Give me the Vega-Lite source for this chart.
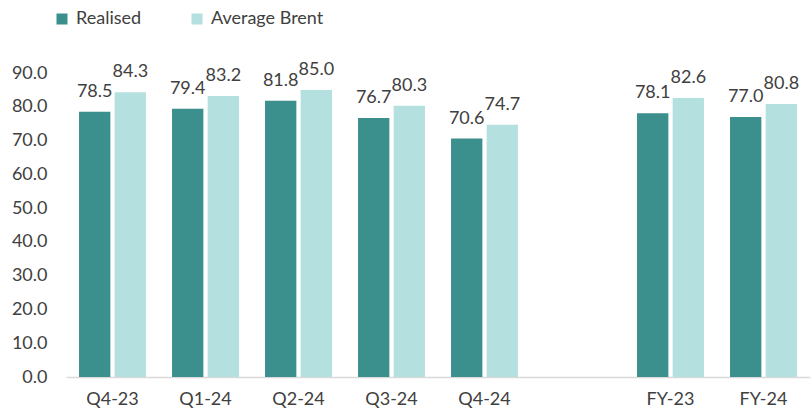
{
  "$schema": "https://vega.github.io/schema/vega-lite/v6.json",
  "width": 744,
  "height": 304,
  "autosize": {"type": "none"},
  "padding": {"left": 66, "top": 73, "right": 2, "bottom": 34},
  "background": "white",
  "config": {
    "view": {"stroke": null},
    "font": "Lato",
    "text": {"font": "Lato"}
  },
  "data": {
    "values": [
      {"period": "Q4-23", "series": "Realised", "value": 78.5},
      {"period": "Q4-23", "series": "Average Brent", "value": 84.3},
      {"period": "Q1-24", "series": "Realised", "value": 79.4},
      {"period": "Q1-24", "series": "Average Brent", "value": 83.2},
      {"period": "Q2-24", "series": "Realised", "value": 81.8},
      {"period": "Q2-24", "series": "Average Brent", "value": 85.0},
      {"period": "Q3-24", "series": "Realised", "value": 76.7},
      {"period": "Q3-24", "series": "Average Brent", "value": 80.3},
      {"period": "Q4-24", "series": "Realised", "value": 70.6},
      {"period": "Q4-24", "series": "Average Brent", "value": 74.7},
      {"period": "FY-23", "series": "Realised", "value": 78.1},
      {"period": "FY-23", "series": "Average Brent", "value": 82.6},
      {"period": "FY-24", "series": "Realised", "value": 77.0},
      {"period": "FY-24", "series": "Average Brent", "value": 80.8}
    ]
  },
  "encoding": {
    "x": {
      "field": "period",
      "type": "nominal",
      "sort": null,
      "scale": {
        "domain": ["Q4-23", "Q1-24", "Q2-24", "Q3-24", "Q4-24", " ", "FY-23", "FY-24"],
        "paddingInner": 0.28,
        "paddingOuter": 0.14
      },
      "axis": {
        "title": null,
        "labelAngle": 0,
        "ticks": false,
        "domainColor": "#D9D9D9",
        "domainWidth": 1.5,
        "labelFont": "Lato",
        "labelFontSize": 18,
        "labelColor": "#404040",
        "labelPadding": 13
      }
    },
    "xOffset": {
      "field": "series",
      "type": "nominal",
      "sort": ["Realised", "Average Brent"],
      "scale": {"paddingInner": 0.12}
    },
    "y": {
      "field": "value",
      "type": "quantitative",
      "scale": {"domain": [0, 90]},
      "axis": {
        "title": null,
        "values": [0, 10, 20, 30, 40, 50, 60, 70, 80, 90],
        "format": ".1f",
        "grid": false,
        "domain": false,
        "ticks": false,
        "labelFont": "Lato",
        "labelFontSize": 18,
        "labelColor": "#404040",
        "labelPadding": 19
      }
    }
  },
  "layer": [
    {
      "mark": {"type": "bar"},
      "encoding": {
        "color": {
          "field": "series",
          "type": "nominal",
          "sort": ["Realised", "Average Brent"],
          "scale": {"domain": ["Realised", "Average Brent"], "range": ["#3B8F8D", "#B4E1E0"]},
          "legend": {
            "title": null,
            "orient": "none",
            "direction": "horizontal",
            "legendX": -13,
            "legendY": -63,
            "symbolType": "square",
            "symbolSize": 121,
            "symbolStrokeWidth": 0,
            "labelFont": "Lato",
            "labelFontSize": 18,
            "labelColor": "#404040",
            "labelOffset": 5,
            "columnPadding": 46
          }
        }
      }
    },
    {
      "mark": {"type": "text", "baseline": "bottom", "dy": -11, "fontSize": 18, "color": "#404040", "font": "Lato"},
      "encoding": {
        "text": {"field": "value", "type": "quantitative", "format": ".1f"}
      }
    }
  ]
}
